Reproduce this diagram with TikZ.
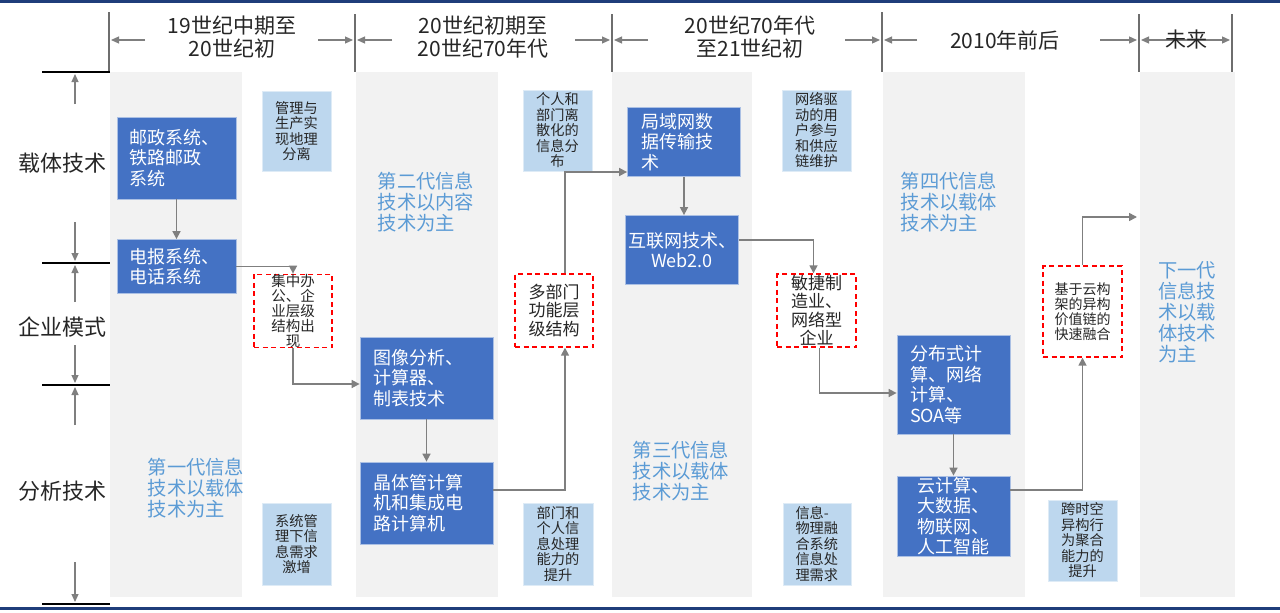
\documentclass[tikz,border=0pt]{standalone}
\usepackage{fontspec}
\setmainfont{Noto Sans CJK SC}
\usetikzlibrary{arrows.meta,calc}
\definecolor{boxblue}{HTML}{4472C4}
\definecolor{lblue}{HTML}{BDD7EE}
\definecolor{txtblue}{HTML}{5B9BD5}
\definecolor{colgray}{HTML}{F2F2F2}
\definecolor{arrgray}{HTML}{7F7F7F}
\definecolor{navy}{HTML}{1F3D7A}
\definecolor{sepgray}{HTML}{6E6E6E}
\definecolor{txtdark}{HTML}{262626}
\begin{document}
\begin{tikzpicture}[x=1pt,y=-1pt,
  bluebox/.style={draw=white!55!boxblue, line width=0.8pt, fill=boxblue, text=white, inner sep=0pt, align=left, font=\fontsize{18}{20.5}\selectfont},
  lbox/.style={draw=white!50!lblue, line width=0.8pt, fill=lblue, text=txtdark, inner sep=0pt, align=center, font=\fontsize{14.2}{15.5}\selectfont},
  rbox/.style={draw=red, dash pattern=on 5pt off 3.5pt, line width=1.4pt, fill=white, inner sep=0pt, align=center, text=txtdark},
  gentxt/.style={text=txtblue, align=left, font=\fontsize{19.3}{21}\selectfont, inner sep=0pt},
  rowlabel/.style={text=txtdark, font=\fontsize{22}{24}\selectfont, inner sep=0pt},
  headtxt/.style={text=txtdark, align=center, font=\fontsize{21}{23.5}\selectfont, inner sep=0pt},
  conn/.style={draw=arrgray, line width=1.6pt, -{Triangle[length=8pt,width=8pt]}},
  thinarr/.style={draw=arrgray, line width=1.2pt, -{Triangle[length=8pt,width=7pt]}},
  sepline/.style={draw=sepgray, line width=1.5pt},
  blackline/.style={draw=black, line width=2.5pt}
]
\useasboundingbox (0,0) rectangle (1280,613);
\fill[white] (0,0) rectangle (1280,613);
% top and bottom bars
\fill[navy] (0,0) rectangle (1280,3);
\fill[navy] (0,607) rectangle (1280,610);
% columns
\fill[colgray] (110,72) rectangle (242,597);
\fill[colgray] (356,72) rectangle (498,597);
\fill[colgray] (612,72) rectangle (752,597);
\fill[colgray] (883,72) rectangle (1025,597);
\fill[colgray] (1140,72) rectangle (1235,597);
% header separators
\draw[sepline] (109,12) -- (109,72);
\draw[sepline] (355,14) -- (355,72);
\draw[sepline] (612,14) -- (612,72);
\draw[sepline] (882,12) -- (882,72);
\draw[sepline] (1139,14) -- (1139,72);
\draw[sepline] (1232,14) -- (1232,72);
% left frame
\draw[blackline] (42,72) -- (110,72);
\draw[blackline] (42,263) -- (110,263);
\draw[blackline] (42,385) -- (110,385);
\draw[blackline] (42,604) -- (110,604);
% header arrows
\coordinate (h1a) at (145,40); \coordinate (h1b) at (111,40);
\coordinate (h1c) at (318,40); \coordinate (h1d) at (353,40);
\coordinate (h2a) at (392,40); \coordinate (h2b) at (357,40);
\coordinate (h2c) at (575,40); \coordinate (h2d) at (610,40);
\coordinate (h3a) at (648,40); \coordinate (h3b) at (614,40);
\coordinate (h3c) at (845,40); \coordinate (h3d) at (880,40);
\coordinate (h4a) at (917,40); \coordinate (h4b) at (884,40);
\coordinate (h4c) at (1100,40); \coordinate (h4d) at (1137,40);
\coordinate (h5a) at (1141,40); \coordinate (h5b) at (1230,40);
\draw[thinarr] (h1a) -- (h1b); \draw[thinarr] (h1c) -- (h1d);
\draw[thinarr] (h2a) -- (h2b); \draw[thinarr] (h2c) -- (h2d);
\draw[thinarr] (h3a) -- (h3b); \draw[thinarr] (h3c) -- (h3d);
\draw[thinarr] (h4a) -- (h4b); \draw[thinarr] (h4c) -- (h4d);
\draw[thinarr, {Triangle[length=8pt,width=7pt]}-{Triangle[length=8pt,width=7pt]}] (h5a) -- (h5b);
% header texts
\node[headtxt] (t1) at (232,37) {19世纪中期至\\20世纪初};
\node[headtxt] (t2) at (483,37) {20世纪初期至\\20世纪70年代};
\node[headtxt] (t3) at (750,37) {20世纪70年代\\至21世纪初};
\node[headtxt] (t4) at (1005,40) {2010年前后};
\node[headtxt] (t5) at (1186,40) {未来};
% left labels and arrows
\node[rowlabel] (lab1) at (62,163) {载体技术};
\node[rowlabel] (lab2) at (62,327) {企业模式};
\node[rowlabel] (lab3) at (62,491) {分析技术};
\coordinate (v1a) at (75,104); \coordinate (v1b) at (75,74);
\coordinate (v2a) at (75,222); \coordinate (v2b) at (75,261);
\coordinate (v3a) at (75,302); \coordinate (v3b) at (75,265);
\coordinate (v4a) at (75,345); \coordinate (v4b) at (75,383);
\coordinate (v5a) at (75,425); \coordinate (v5b) at (75,387);
\coordinate (v6a) at (75,562); \coordinate (v6b) at (75,602);
\draw[thinarr] (v1a) -- (v1b);
\draw[thinarr] (v2a) -- (v2b);
\draw[thinarr] (v3a) -- (v3b);
\draw[thinarr] (v4a) -- (v4b);
\draw[thinarr] (v5a) -- (v5b);
\draw[thinarr] (v6a) -- (v6b);
% blue boxes
\node[bluebox, minimum width=119pt, minimum height=82pt, text width=95pt] (b1) at (176.5,158) {邮政系统、\\铁路邮政\\系统};
\node[bluebox, minimum width=119pt, minimum height=54pt, text width=95pt] (b2) at (176.5,266.5) {电报系统、\\电话系统};
\node[bluebox, minimum width=133pt, minimum height=82pt, text width=107pt] (b3) at (426.5,378) {图像分析、\\计算器、\\制表技术};
\node[bluebox, minimum width=133pt, minimum height=82pt, text width=107pt] (b4) at (426.5,503) {晶体管计算\\机和集成电\\路计算机};
\node[bluebox, minimum width=113pt, minimum height=69pt, text width=85pt] (b5) at (684,142) {局域网数\\据传输技\\术};
\node[bluebox, minimum width=113pt, minimum height=69pt, text width=109pt, align=center] (b6) at (682,250) {互联网技术、\\Web2.0};
\node[bluebox, minimum width=113pt, minimum height=99pt, text width=87pt] (b7) at (953.5,384.5) {分布式计\\算、网络\\计算、\\SOA等};
\node[bluebox, minimum width=113pt, minimum height=80pt, text width=73pt] (b8) at (953.5,516) {云计算、\\大数据、\\物联网、\\人工智能};
% light boxes
\node[lbox, minimum width=69pt, minimum height=80pt] (l1) at (296.5,131) {管理与\\生产实\\现地理\\分离};
\node[lbox, minimum width=69pt, minimum height=82pt] (l2) at (296.5,544) {系统管\\理下信\\息需求\\激增};
\node[lbox, minimum width=69pt, minimum height=81pt] (l3) at (557.5,130.5) {个人和\\部门离\\散化的\\信息分\\布};
\node[lbox, minimum width=70pt, minimum height=82pt] (l4) at (558,544) {部门和\\个人信\\息处理\\能力的\\提升};
\node[lbox, minimum width=69pt, minimum height=81pt] (l5) at (816.5,130.5) {网络驱\\动的用\\户参与\\和供应\\链维护};
\node[lbox, minimum width=68pt, minimum height=82pt, text width=43pt, align=left] (l6) at (817,544) {信息-\\物理融\\合系统\\信息处\\理需求};
\node[lbox, minimum width=69pt, minimum height=81pt] (l7) at (1082.5,540.5) {跨时空\\异构行\\为聚合\\能力的\\提升};
% red dashed boxes
\node[rbox, minimum width=78pt, minimum height=72pt, font=\fontsize{14.5}{15}\selectfont] (r1) at (293,311) {集中办\\公、企\\业层级\\结构出\\现};
\node[rbox, minimum width=78pt, minimum height=73pt, font=\fontsize{17}{18.5}\selectfont] (r2) at (554,310.5) {多部门\\功能层\\级结构};
\node[rbox, minimum width=79pt, minimum height=73pt, font=\fontsize{17}{18.5}\selectfont] (r3) at (816.5,310.5) {敏捷制\\造业、\\网络型\\企业};
\node[rbox, minimum width=79pt, minimum height=91pt, font=\fontsize{14}{15}\selectfont] (r4) at (1082.5,311.5) {基于云构\\架的异构\\价值链的\\快速融合};
% generation texts
\node[gentxt] (g1) at (196,488) {第一代信息\\技术以载体\\技术为主};
\node[gentxt] (g2) at (426,202) {第二代信息\\技术以内容\\技术为主};
\node[gentxt] (g3) at (681,471) {第三代信息\\技术以载体\\技术为主};
\node[gentxt] (g4) at (949,202) {第四代信息\\技术以载体\\技术为主};
\node[gentxt] (g5) at (1187,312) {下一代\\信息技\\术以载\\体技术\\为主};
% connectors
\coordinate (c5) at (1137,217);
\draw[conn] (b1.south) -- (b2.north);
\draw[conn] (b2.east) -| (r1.north);
\draw[conn] (r1.south) |- ($(b3.west)+(0,6)$);
\draw[conn] (b3.south) -- (b4.north);
\draw[conn] ($(b4.east)+(0,-13)$) -| ($(r2.south)+(11,0)$);
\draw[conn] ($(r2.north)+(11,0)$) |- ($(b5.west)+(0,30)$);
\draw[conn] (b5.south) -- (b5.south |- b6.north);
\draw[conn] ($(b6.east)+(0,-10)$) -| ($(r3.north)+(-3,0)$);
\draw[conn] ($(r3.south)+(3,0)$) |- ($(b7.west)+(0,8.5)$);
\draw[conn] (b7.south) -- (b8.north);
\draw[conn] ($(b8.east)+(0,-26)$) -| (r4.south);
\draw[conn] (r4.north) |- (c5);
\end{tikzpicture}
\end{document}
